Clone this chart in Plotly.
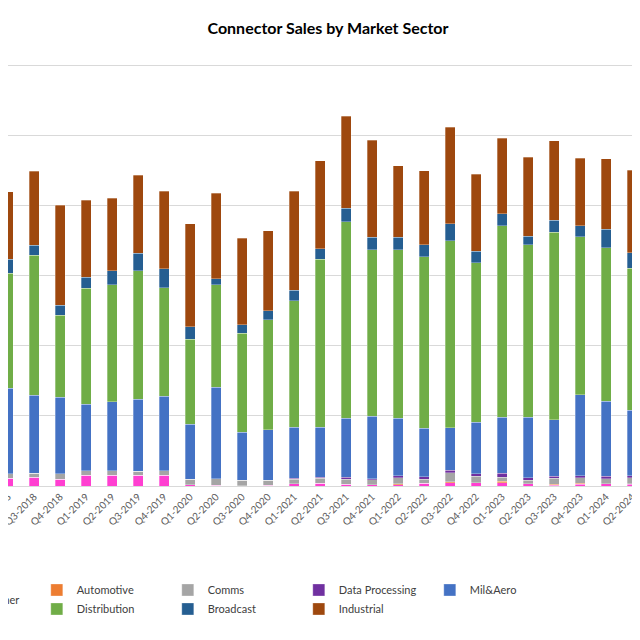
import plotly.graph_objects as go

quarters = ["Q2-2018","Q3-2018","Q4-2018","Q1-2019","Q2-2019","Q3-2019","Q4-2019",
            "Q1-2020","Q2-2020","Q3-2020","Q4-2020","Q1-2021","Q2-2021","Q3-2021",
            "Q4-2021","Q1-2022","Q2-2022","Q3-2022","Q4-2022","Q1-2023","Q2-2023",
            "Q3-2023","Q4-2023","Q1-2024","Q2-2024","Q3-2024"]

consumer = [1.11,1.26,0.97,1.5,1.5,1.5,1.5,0.17,0.11,0.07,0.11,0.31,0.4,0.26,0.17,0.21,0.36,0.46,0.46,0.5,0.31,0.1,0.26,0.31,0.26,0.3]
automotive = [0,0,0,0,0,0,0,0,0,0,0,0,0,0,0,0.14,0,0.14,0,0.19,0,0.14,0.1,0.04,0.06,0.06]
comms = [0.67,0.53,0.81,0.67,0.67,0.61,0.67,0.8,0.96,0.76,0.71,0.66,0.71,0.71,0.71,0.86,0.61,1.29,0.9,0.57,0.51,0.9,0.81,0.67,0.86,0.8]
data_processing = [0,0,0,0,0,0,0,0,0,0,0,0.14,0.14,0.29,0.19,0.24,0.34,0.37,0.39,0.57,0.34,0.24,0.29,0.37,0.29,0.3]
mil_aero = [12.14,11.14,10.86,9.51,9.86,10.29,10.66,7.86,13.0,6.86,7.2,7.29,7.14,8.43,8.86,8.19,6.94,6.06,7.33,8.0,8.66,8.09,11.57,10.67,9.37,9.5]
distribution = [16.47,20.0,11.71,16.53,16.66,18.34,15.43,12.14,14.67,14.14,15.71,18.06,23.96,28.0,23.76,24.04,24.49,26.66,22.76,27.34,24.63,26.77,22.57,21.96,20.2,20.5]
broadcast = [1.96,1.43,1.47,1.61,2.06,2.47,2.71,1.77,0.8,1.2,1.29,1.47,1.53,1.91,1.81,1.81,1.71,2.43,1.63,1.71,1.19,1.71,1.51,2.61,2.23,2.0]
industrial = [9.61,10.57,14.24,10.96,10.29,11.14,11.06,14.71,12.2,12.33,11.43,14.14,12.51,13.19,13.81,10.24,10.51,13.77,11.0,10.76,11.24,11.29,9.67,10.04,11.77,11.5]

series = [
    ("Consumer", consumer, "#FF3FD1"),
    ("Automotive", automotive, "#ED7D31"),
    ("Comms", comms, "#A5A5A5"),
    ("Data Processing", data_processing, "#7030A0"),
    ("Mil&Aero", mil_aero, "#4472C4"),
    ("Distribution", distribution, "#70AD47"),
    ("Broadcast", broadcast, "#255E91"),
    ("Industrial", industrial, "#9E480E"),
]

fig = go.Figure()
for name, vals, col in series:
    fig.add_trace(go.Bar(x=quarters, y=vals, name=name, showlegend=(name != "Consumer"),
                         marker=dict(color=col, line=dict(width=0.5, color="rgba(255,255,255,0.6)"))))

fig.add_annotation(text="Consumer", xref="paper", yref="paper", x=0.02, xanchor="right",
                   y=-0.255, yanchor="middle", showarrow=False,
                   font=dict(size=11, color="#404040"))

fig.update_layout(
    barmode="stack", bargap=0.615,
    width=640, height=640,
    paper_bgcolor="white", plot_bgcolor="white",
    margin=dict(l=0, r=0, t=33, b=162, autoexpand=False),
    title=dict(text="<b>Connector Sales by Market Sector</b>", x=0.5, xanchor="center",
               y=1 - 20/640, yanchor="middle",
               font=dict(family="Lato, Open Sans, sans-serif", size=16, color="#000000")),
    font=dict(family="Lato, Open Sans, sans-serif", color="#595959"),
    legend=dict(orientation="h", x=0.045, xanchor="left", y=-0.255, yanchor="middle",
                font=dict(size=11, color="#404040"), itemwidth=30, traceorder="normal",
                entrywidth=86, entrywidthmode="pixels"),
    showlegend=True,
)
fig.update_xaxes(type="category", range=[0, 24.615], tickangle=-45,
                 tickfont=dict(size=10, color="#595959"), showline=True,
                 linecolor="#d9d9d9", ticks="")
fig.update_yaxes(range=[0, 63.5], dtick=10, showticklabels=False,
                 gridcolor="#d9d9d9", zeroline=False)

fig.write_html("out.html")
